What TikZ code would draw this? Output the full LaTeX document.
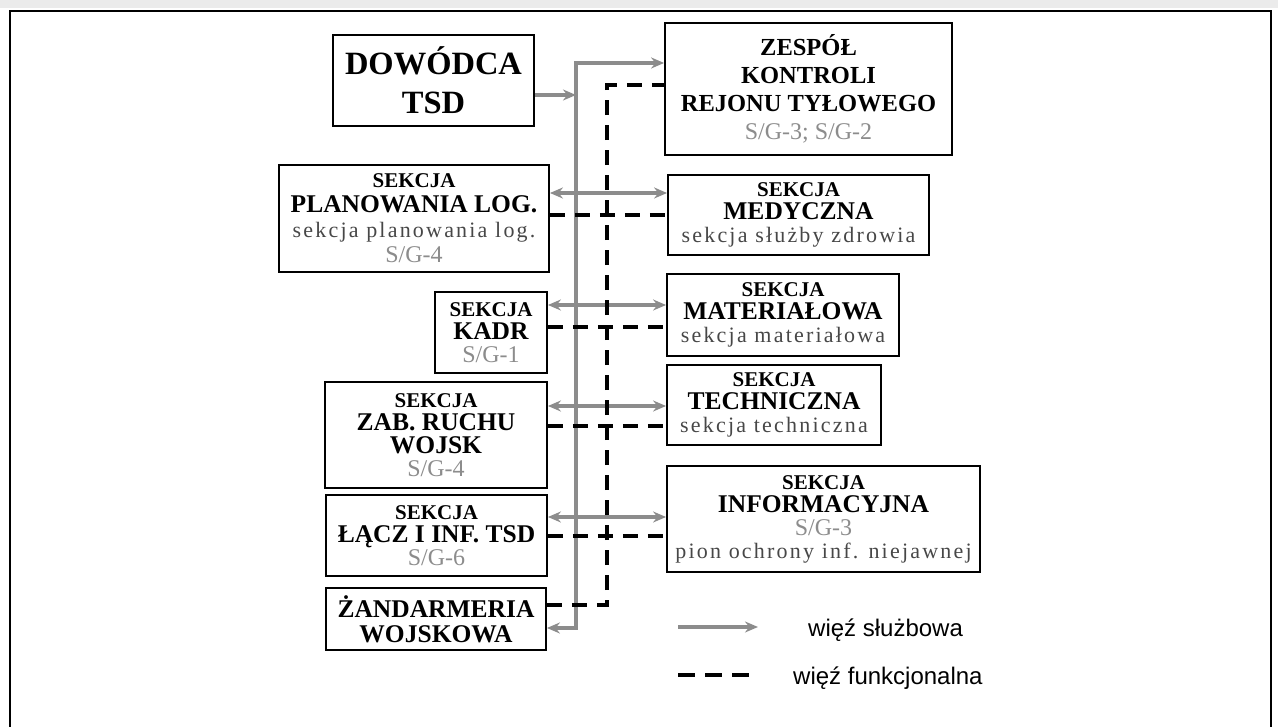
\documentclass[tikz,border=0pt]{standalone}
\usepackage{fontspec}
\setmainfont{Liberation Serif}
\newfontfamily\legendfont{Liberation Sans}
\newfontfamily\spacedfont[LetterSpace=10]{Liberation Serif}
\usetikzlibrary{arrows.meta}

% line styles inside the boxes
\newcommand{\sekhead}[1]{{\fontsize{21}{23}\selectfont #1}}
\newcommand{\sgline}[1]{{\mdseries\color{black!45}\fontsize{24}{23}\selectfont #1}}
\newcommand{\lcline}[1]{{\spacedfont\mdseries\color{black!72}\fontsize{22}{23}\selectfont #1}}

\tikzset{
  unitbox/.style={draw=black, line width=1.8pt, align=center, inner sep=0pt,
    font=\bfseries\fontsize{25.5}{23}\selectfont},
  srv/.style={draw=black!45, line width=3.5pt},
  srvtip/.style={-{Stealth[length=13pt,width=11pt]}},
  srvboth/.style={{Stealth[length=13pt,width=11pt]}-{Stealth[length=13pt,width=11pt]}},
  fn/.style={draw=black, line width=4pt, dash pattern=on 15pt off 10pt},
  frame/.style={draw=black, line width=1.8pt},
  legendtext/.style={anchor=base west, inner sep=0pt, font=\legendfont\fontsize{24}{26}\selectfont}
}

\begin{document}
\begin{tikzpicture}[x=1pt, y=-1pt]
\useasboundingbox (0,0) rectangle (1278,727);
\fill[black!8] (0,0) rectangle (1278,8);
\draw[frame] (10,727) -- (10,11) -- (1271,11) -- (1271,727);

% left column
\node[unitbox, minimum width=201, minimum height=91, font=\bfseries\fontsize{32.5}{39}\selectfont]
  (dow) at (433.5,80.5) {DOWÓDCA\\TSD};
\node[unitbox, minimum width=270, minimum height=107, font=\bfseries\fontsize{25.5}{25}\selectfont]
  (plan) at (414,218.5) {\sekhead{SEKCJA}\\PLANOWANIA LOG.\\\lcline{sekcja planowania log.}\\\sgline{S/G-4}};
\node[unitbox, minimum width=112, minimum height=81]
  (kadr) at (491,332.5) {\sekhead{SEKCJA}\\KADR\\\sgline{S/G-1}};
\node[unitbox, minimum width=222, minimum height=106]
  (zab) at (436,435) {\sekhead{SEKCJA}\\ZAB. RUCHU\\WOJSK\\\sgline{S/G-4}};
\node[unitbox, minimum width=221, minimum height=81]
  (lacz) at (436.5,535.5) {\sekhead{SEKCJA}\\ŁĄCZ I INF. TSD\\\sgline{S/G-6}};
\node[unitbox, minimum width=220, minimum height=62, font=\bfseries\fontsize{25.5}{25}\selectfont]
  (zand) at (436,619) {ŻANDARMERIA\\WOJSKOWA};

% right column
\node[unitbox, minimum width=287, minimum height=132, font=\bfseries\fontsize{24.5}{28}\selectfont]
  (zes) at (808.5,89) {ZESPÓŁ\\KONTROLI\\REJONU TYŁOWEGO\\\sgline{S/G-3; S/G-2}};
\node[unitbox, minimum width=261, minimum height=80]
  (med) at (798.5,215) {\sekhead{SEKCJA}\\MEDYCZNA\\\lcline{sekcja służby zdrowia}};
\node[unitbox, minimum width=232, minimum height=82]
  (mat) at (783,315) {\sekhead{SEKCJA}\\MATERIAŁOWA\\\lcline{sekcja materiałowa}};
\node[unitbox, minimum width=214, minimum height=80]
  (tech) at (774,405) {\sekhead{SEKCJA}\\TECHNICZNA\\\lcline{sekcja techniczna}};
\node[unitbox, minimum width=313, minimum height=106]
  (inf) at (823.5,519) {\sekhead{SEKCJA}\\INFORMACYJNA\\\sgline{S/G-3}\\\lcline{pion ochrony inf. niejawnej}};

% service links: gray bus
\coordinate (gtop) at (576,63);
\coordinate (gbot) at (576,628);
\coordinate (dowin) at (576,95);
\draw[srv, srvboth] (zand.east |- gbot) -- (gbot) -- (gtop) -- (zes.west |- gtop);
\draw[srv, srvtip] (dow.east |- dowin) -- (dowin);
\draw[srv, srvboth] (plan.east |- 0,193) -- (med.west |- 0,193);
\draw[srv, srvboth] (kadr.east |- 0,305) -- (mat.west |- 0,305);
\draw[srv, srvboth] (zab.east |- 0,406) -- (tech.west |- 0,406);
\draw[srv, srvboth] (lacz.east |- 0,517) -- (inf.west |- 0,517);

% functional links: dashed bus
\coordinate (ftop) at (607,85);
\coordinate (fbot) at (607,605);
\draw[fn] (zand.east |- fbot) -- (fbot) -- (ftop) -- (zes.west |- ftop);
\draw[fn] (plan.east |- 0,215) -- (med.west |- 0,215);
\draw[fn] (kadr.east |- 0,327) -- (mat.west |- 0,327);
\draw[fn] (zab.east |- 0,426) -- (tech.west |- 0,426);
\draw[fn] (lacz.east |- 0,536) -- (inf.west |- 0,536);

% legend
\coordinate (ls1) at (678,627);
\coordinate (ls2) at (758,627);
\draw[srv, srvtip] (ls1) -- (ls2);
\node[legendtext] (lsl) at (808,636) {więź służbowa};
\coordinate (lf1) at (678,675);
\coordinate (lf2) at (749,675);
\draw[fn, dash pattern=on 17pt off 10pt] (lf1) -- (lf2);
\node[legendtext] (lfl) at (793,684) {więź funkcjonalna};
\end{tikzpicture}
\end{document}
